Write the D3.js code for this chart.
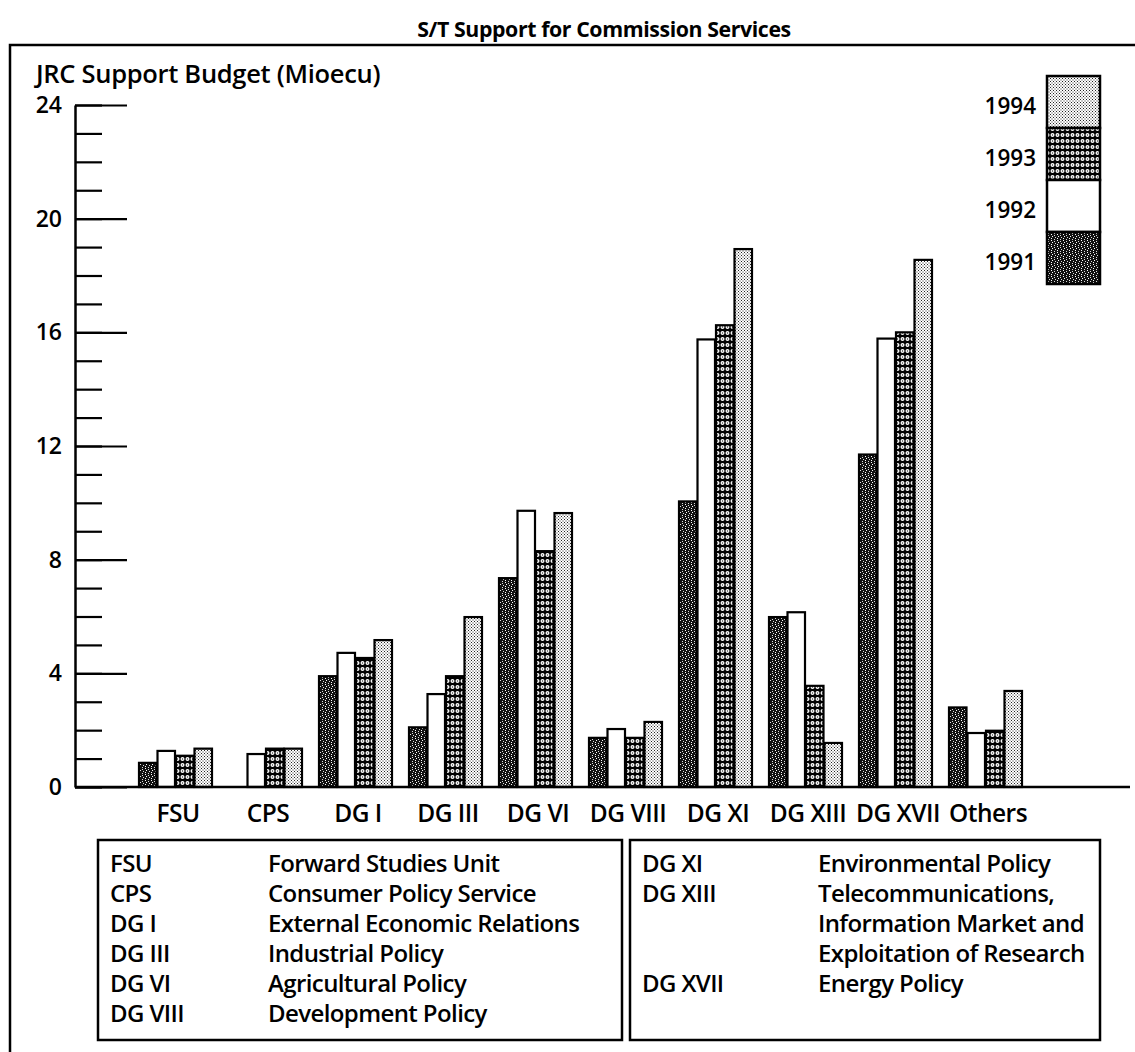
<!DOCTYPE html>
<html>
<head>
<meta charset="utf-8">
<script src="https://cdn.jsdelivr.net/npm/d3@7"></script>
<style>
  html, body { margin: 0; padding: 0; background: #fff; }
  svg { display: block; }
  text { font-family: "Open Sans", "Noto Sans", sans-serif; fill: #000; }
</style>
</head>
<body>
<svg id="chart" width="1135" height="1052"></svg>
<script>
// ---------------- data ----------------
const categories = ["FSU", "CPS", "DG I", "DG III", "DG VI", "DG VIII", "DG XI", "DG XIII", "DG XVII", "Others"];
const years = ["1991", "1992", "1993", "1994"];
const v1991 = [0.85, 0, 3.9, 2.1, 7.35, 1.73, 10.05, 5.98, 11.7, 2.8];
const v1992 = [1.27, 1.16, 4.72, 3.27, 9.72, 2.04, 15.75, 6.15, 15.78, 1.9];
const v1993 = [1.1, 1.35, 4.54, 3.9, 8.3, 1.73, 16.25, 3.56, 16.0, 1.98];
const v1994 = [1.35, 1.35, 5.17, 5.98, 9.64, 2.29, 18.93, 1.55, 18.55, 3.38];
const majorTicks = [0, 4, 8, 12, 16, 20, 24];
const minorTicks = d3.range(0, 25, 1);
const title = "S/T Support for Commission Services";
const yTitle = "JRC Support Budget (Mioecu)";
const glossLeft = [
  ["FSU", "Forward Studies Unit"],
  ["CPS", "Consumer Policy Service"],
  ["DG I", "External Economic Relations"],
  ["DG III", "Industrial Policy"],
  ["DG VI", "Agricultural Policy"],
  ["DG VIII", "Development Policy"]
];
const glossRight = [
  ["DG XI", "Environmental Policy"],
  ["DG XIII", "Telecommunications,"],
  ["", "Information Market and"],
  ["", "Exploitation of Research"],
  ["DG XVII", "Energy Policy"]
];

const series = { "1991": v1991, "1992": v1992, "1993": v1993, "1994": v1994 };

// ---------------- setup ----------------
const svg = d3.select("#chart");
const defs = svg.append("defs");

// pattern 1991: dark with white zigzag specks
const p91 = defs.append("pattern").attr("id", "p1991").attr("patternUnits", "userSpaceOnUse")
  .attr("width", 6).attr("height", 6);
p91.append("rect").attr("width", 6).attr("height", 6).attr("fill", "#111");
p91.append("rect").attr("x", 1).attr("y", 0).attr("width", 1).attr("height", 1).attr("fill", "#fff");
p91.append("rect").attr("x", 2).attr("y", 2).attr("width", 1).attr("height", 1).attr("fill", "#fff");
p91.append("rect").attr("x", 1).attr("y", 4).attr("width", 1).attr("height", 1).attr("fill", "#fff");
p91.append("rect").attr("x", 4).attr("y", 1).attr("width", 1).attr("height", 1).attr("fill", "#ddd");
p91.append("rect").attr("x", 5).attr("y", 3).attr("width", 1).attr("height", 1).attr("fill", "#ddd");
p91.append("rect").attr("x", 4).attr("y", 5).attr("width", 1).attr("height", 1).attr("fill", "#ddd");

// pattern 1993: black with rows of white circles
const p93 = defs.append("pattern").attr("id", "p1993").attr("patternUnits", "userSpaceOnUse")
  .attr("width", 5).attr("height", 6);
p93.append("rect").attr("width", 5).attr("height", 6).attr("fill", "#000");
p93.append("ellipse").attr("cx", 2.5).attr("cy", 3).attr("rx", 2).attr("ry", 2).attr("fill", "#fff");
p93.append("ellipse").attr("cx", 2.5).attr("cy", 3).attr("rx", 0.7).attr("ry", 0.7).attr("fill", "#333");

// pattern 1994: light stipple
const p94 = defs.append("pattern").attr("id", "p1994").attr("patternUnits", "userSpaceOnUse")
  .attr("width", 3).attr("height", 3);
p94.append("rect").attr("width", 3).attr("height", 3).attr("fill", "#fff");
p94.append("rect").attr("x", 0).attr("y", 0).attr("width", 1).attr("height", 1).attr("fill", "#222");
p94.append("rect").attr("x", 1.5).attr("y", 1.5).attr("width", 1).attr("height", 1).attr("fill", "#222");

const fills = { "1991": "url(#p1991)", "1992": "#fff", "1993": "url(#p1993)", "1994": "url(#p1994)" };

// ---------------- frame and titles ----------------
svg.append("text").attr("x", 604).attr("y", 37).attr("text-anchor", "middle")
  .attr("font-size", 21.3).attr("font-weight", 700).attr("letter-spacing", -0.4).text(title);
svg.append("path").attr("d", "M10,1052V45H1135").attr("fill", "none").attr("stroke", "#000").attr("stroke-width", 2.5);
svg.append("text").attr("x", 36).attr("y", 83).attr("font-size", 25.5).attr("font-weight", 600)
  .attr("letter-spacing", -0.3).text(yTitle);

// ---------------- scales ----------------
const y = d3.scaleLinear().domain([0, 24]).range([787, 105]);
const x = d3.scaleBand().domain(categories).range([130, 1030]).paddingInner(16 / 90).paddingOuter(8 / 90);
const xi = d3.scaleBand().domain(years).range([0, x.bandwidth()]).padding(0);

// ---------------- axis ----------------
const axisX = 75;
const gMinor = svg.append("g").attr("transform", `translate(${axisX},0)`)
  .call(d3.axisLeft(y).tickValues(minorTicks).tickSizeInner(-27).tickSizeOuter(0).tickFormat(""));
gMinor.select(".domain").remove();
gMinor.selectAll("line").attr("stroke", "#000").attr("stroke-width", 2.2);

const gMajor = svg.append("g").attr("transform", `translate(${axisX},0)`)
  .call(d3.axisLeft(y).tickValues(majorTicks).tickSizeInner(-52).tickSizeOuter(0).tickPadding(13).tickFormat(d3.format("d")));
gMajor.select(".domain").attr("stroke", "#000").attr("stroke-width", 2.5);
gMajor.selectAll("line").attr("stroke", "#000").attr("stroke-width", 2.2);
gMajor.selectAll("text").attr("font-size", 23).attr("font-weight", 600).attr("fill", "#000")
  .attr("font-family", "'Open Sans', sans-serif");

// ---------------- bars ----------------
const barData = [];
categories.forEach((c, i) => {
  years.forEach(yr => {
    const v = series[yr][i];
    if (v > 0) barData.push({ cat: c, year: yr, value: v });
  });
});

svg.append("g").selectAll("rect").data(barData).join("rect")
  .attr("x", d => x(d.cat) + xi(d.year) + 1)
  .attr("y", d => y(d.value))
  .attr("width", xi.bandwidth() - 1)
  .attr("height", d => y(0) - y(d.value))
  .attr("fill", d => fills[d.year])
  .attr("stroke", "#000").attr("stroke-width", 2.2);

// baseline
svg.append("line").attr("x1", axisX).attr("x2", 1130).attr("y1", y(0)).attr("y2", y(0))
  .attr("stroke", "#000").attr("stroke-width", 2.5);

// category labels
svg.append("g").selectAll("text").data(categories).join("text")
  .attr("x", d => x(d) + x.bandwidth() / 2 + 3)
  .attr("y", 822)
  .attr("text-anchor", "middle")
  .attr("font-size", 24.5).attr("font-weight", 600).attr("letter-spacing", -0.5)
  .text(d => d);

// ---------------- year legend ----------------
const legX = 1047, legW = 53, legTop = 76, legH = 52;
const legYears = years.slice().reverse();
const lg = svg.append("g");
lg.selectAll("rect").data(legYears).join("rect")
  .attr("x", legX).attr("y", (d, i) => legTop + i * legH)
  .attr("width", legW).attr("height", legH)
  .attr("fill", d => fills[d]).attr("stroke", "#000").attr("stroke-width", 2.5);
lg.selectAll("text").data(legYears).join("text")
  .attr("x", 1036).attr("y", (d, i) => legTop + i * legH + 38)
  .attr("text-anchor", "end").attr("font-size", 22.5).attr("font-weight", 600)
  .text(d => d);

// ---------------- glossary boxes ----------------
function gloss(rows, bx, bw, descX) {
  const g = svg.append("g");
  g.append("rect").attr("x", bx).attr("y", 840).attr("width", bw).attr("height", 200)
    .attr("fill", "none").attr("stroke", "#000").attr("stroke-width", 2.5);
  g.selectAll("text.ab").data(rows).join("text").attr("class", "ab")
    .attr("x", bx + 12).attr("y", (d, i) => 872 + i * 30)
    .attr("font-size", 24).attr("font-weight", 600).attr("letter-spacing", -0.6).text(d => d[0]);
  g.selectAll("text.ds").data(rows).join("text").attr("class", "ds")
    .attr("x", descX).attr("y", (d, i) => 872 + i * 30)
    .attr("font-size", 24).attr("font-weight", 600).attr("letter-spacing", -0.6).text(d => d[1]);
}
gloss(glossLeft, 98, 524, 268);
gloss(glossRight, 630, 470, 818);
</script>
</body>
</html>
